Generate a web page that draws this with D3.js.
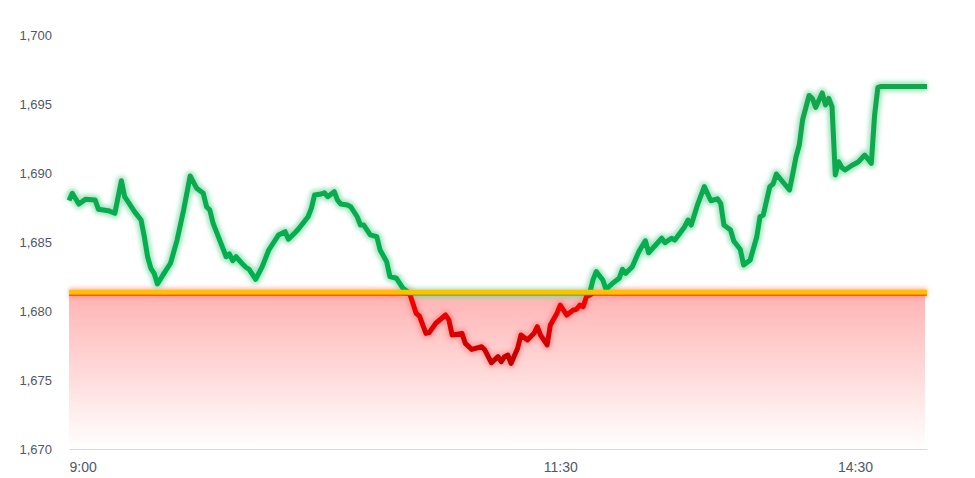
<!DOCTYPE html>
<html>
<head>
<meta charset="utf-8">
<script src="https://cdn.jsdelivr.net/npm/d3@7"></script>
<style>
  html, body { margin: 0; padding: 0; background: #fff; }
  #chart { width: 975px; height: 478px; }
  .axis text { font-family: "Liberation Sans", Arial, sans-serif; fill: #4f5968; }
</style>
</head>
<body>
<div id="chart"></div>
<script>
// intraday prices (morning 9:00-11:30, afternoon from 13:00)
const times = [
  "9:00","9:01","9:03","9:05","9:08","9:09","9:12","9:14","9:16","9:17","9:19","9:20","9:22","9:23","9:24","9:25","9:26","9:27","9:29",
  "9:31","9:33","9:35","9:37","9:39","9:41","9:42","9:43","9:44","9:45","9:48","9:49","9:50","9:51","9:53","9:54","9:55","9:57","9:59",
  "10:01","10:04","10:06","10:07","10:09","10:10","10:13","10:14","10:15","10:17","10:18","10:19","10:21","10:22","10:23","10:25","10:26","10:28","10:29",
  "10:30","10:32","10:34","10:35","10:37","10:38","10:40","10:42","10:44","10:45","10:46","10:47","10:49","10:50","10:52","10:55","10:56","10:57",
  "11:00","11:01","11:03","11:06","11:07","11:09","11:11","11:12","11:13","11:14","11:15","11:17","11:18","11:20","11:22","11:23","11:24","11:26","11:27","11:29","11:30",
  "13:02","13:04","13:05","13:06","13:07","13:08","13:09","13:10","13:11","13:13","13:14","13:16","13:18","13:19","13:20","13:22","13:24","13:26","13:27",
  "13:31","13:32","13:34","13:35","13:38","13:39","13:40","13:42","13:44","13:46","13:48","13:49","13:50","13:52","13:53","13:55","13:56","13:58",
  "14:00","14:01","14:02","14:04","14:05","14:06","14:08","14:10","14:11","14:12","14:13","14:14","14:16","14:17","14:18","14:20","14:21","14:22","14:23",
  "14:24","14:25","14:26","14:27","14:29","14:31","14:33","14:35","14:36","14:37","14:38","14:52"
];
const prices = [
  1688.00,1688.53,1687.75,1688.09,1688.04,1687.37,1687.27,1687.08,1689.44,1688.28,1687.56,1687.20,1686.59,1685.38,1683.93,1683.09,1682.73,1681.96,1682.73,
  1683.46,1685.14,1687.32,1689.78,1688.89,1688.53,1687.56,1687.32,1686.36,1685.75,1683.93,1684.13,1683.64,1683.93,1683.41,1683.17,1683.02,1682.30,1683.21,
  1684.42,1685.51,1685.75,1685.20,1685.67,1685.92,1686.83,1687.44,1688.41,1688.48,1688.57,1688.28,1688.64,1688.04,1687.75,1687.68,1687.56,1686.83,1686.23,
  1686.23,1685.51,1685.38,1684.42,1683.57,1682.49,1682.37,1681.64,1681.28,1680.56,1679.83,1679.64,1678.38,1678.43,1679.11,1679.71,1679.35,1678.26,
  1678.38,1677.66,1677.22,1677.41,1677.17,1676.25,1676.69,1676.33,1676.69,1676.81,1676.21,1677.30,1678.26,1677.90,1678.38,1678.86,1678.26,1677.54,1678.99,1679.83,1680.43,
  1679.71,1680.07,1680.12,1680.43,1680.31,1681.04,1681.16,1682.25,1682.85,1682.25,1681.57,1682.01,1682.37,1683.02,1682.73,1683.21,1684.30,1685.09,1684.22,
  1685.27,1684.95,1685.27,1685.14,1686.11,1686.59,1686.23,1687.75,1689.01,1687.99,1688.13,1687.80,1686.23,1685.87,1685.07,1684.46,1683.33,1683.70,
  1685.36,1686.83,1686.96,1689.01,1689.20,1689.93,1689.35,1688.77,1689.93,1691.16,1692.03,1693.84,1695.62,1695.40,1694.75,1695.80,1694.93,1695.40,1694.80,
  1689.86,1690.82,1690.40,1690.22,1690.54,1690.80,1691.30,1690.70,1694.20,1696.21,1696.27,1696.27
];
const baseValue = 1681.3;             // previous close
const yTicks = [1670, 1675, 1680, 1685, 1690, 1695, 1700];
const xTickLabels = ["9:00", "11:30", "14:30"];

// minutes of trading since the open, lunch break skipped
function sessionMinute(t) {
  var p = t.split(":").map(Number);
  var mins = p[0] * 60 + p[1];
  return mins <= 690 ? mins - 540 : mins - 780 + 150;
}

class IntradayChart {
  constructor(config) {
    this.config = config;
    this.initParams();
    this.initChart();
  }

  initParams() {
    this.selectChart = d3.select(this.config.bindto);
    this.margin = {top: 35, right: 48, bottom: 29, left: 69};
    this.width = 975 - this.margin.left - this.margin.right;
    this.height = 478 - this.margin.top - this.margin.bottom;
  }

  initChart() {
    this.svg = this.selectChart.append("svg")
      .attr("width", 975)
      .attr("height", 478);

    var defs = this.svg.append("defs");
    var glow = defs.append("filter").attr("id", "glow")
      .attr("x", "-5%").attr("y", "-20%").attr("width", "110%").attr("height", "140%");
    glow.append("feGaussianBlur").attr("stdDeviation", 2.2);

    this.defs = defs;
    this.g = this.svg.append("g")
      .attr("transform", "translate(" + this.margin.left + "," + this.margin.top + ")");
  }

  updateParams() {
    this.data = times.map((t, i) => ({m: sessionMinute(t), v: prices[i]}));
    this.xScale = d3.scaleLinear()
      .domain([0, d3.max(this.data, d => d.m)])
      .range([0, this.width]);
    this.yScale = d3.scaleLinear()
      .domain([1670, 1700])
      .range([this.height, 0]);
  }

  drawGradients() {
    var yb = this.yScale(baseValue);
    var area = this.defs.append("linearGradient").attr("id", "areaGrad")
      .attr("gradientUnits", "userSpaceOnUse")
      .attr("x1", 0).attr("x2", 0).attr("y1", yb).attr("y2", this.height);
    area.append("stop").attr("offset", "0%").attr("stop-color", "#ffb3b3");
    area.append("stop").attr("offset", "100%").attr("stop-color", "#ffffff");

    var red = this.defs.append("linearGradient").attr("id", "redGrad")
      .attr("gradientUnits", "userSpaceOnUse")
      .attr("x1", 0).attr("x2", 0).attr("y1", yb).attr("y2", this.yScale(d3.min(prices)));
    red.append("stop").attr("offset", "0%").attr("stop-color", "#ff0000");
    red.append("stop").attr("offset", "100%").attr("stop-color", "#c00000");

    var green = this.defs.append("linearGradient").attr("id", "greenGrad")
      .attr("gradientUnits", "userSpaceOnUse")
      .attr("x1", 0).attr("x2", 0).attr("y1", yb).attr("y2", this.yScale(d3.max(prices)));
    green.append("stop").attr("offset", "0%").attr("stop-color", "#00b050");
    green.append("stop").attr("offset", "100%").attr("stop-color", "#13a64c");
  }

  drawAxis() {
    var yAxis = this.g.append("g").attr("class", "axis y-axis")
      .call(d3.axisLeft(this.yScale).tickValues(yTicks).tickFormat(d3.format(",")).tickSize(0).tickPadding(17));
    yAxis.select(".domain").remove();
    yAxis.selectAll("text").style("font-size", "13px");

    var xAxis = this.g.append("g").attr("class", "axis x-axis")
      .attr("transform", "translate(0," + this.height + ")")
      .call(d3.axisBottom(this.xScale)
        .tickValues(xTickLabels.map(sessionMinute))
        .tickFormat((d, i) => xTickLabels[i])
        .tickSize(0).tickSizeOuter(0).tickPadding(13));
    xAxis.select(".domain").attr("stroke", "#d9d9d9");
    xAxis.selectAll("text").style("font-size", "14px")
      .attr("text-anchor", (d, i) => i === 0 ? "start" : "middle");
  }

  drawArea() {
    var yb = this.yScale(baseValue);
    this.g.append("rect")
      .attr("x", 0)
      .attr("y", yb)
      .attr("width", this.width - 2)
      .attr("height", this.height - yb - 1)
      .attr("fill", "url(#areaGrad)");
  }

  drawLines() {
    var that = this;
    var upLine = d3.line().curve(d3.curveLinear)
      .x(d => that.xScale(d.m)).y(d => that.yScale(Math.max(d.v, baseValue)));
    var downLine = d3.line().curve(d3.curveLinear)
      .x(d => that.xScale(d.m)).y(d => that.yScale(Math.min(d.v, baseValue)));

    // soft glow under the lines
    this.g.append("path").datum(this.data)
      .attr("d", downLine).attr("fill", "none")
      .attr("stroke", "#ff8080").attr("stroke-opacity", 0.6).attr("stroke-width", 10)
      .attr("stroke-linejoin", "round").attr("filter", "url(#glow)");
    this.g.append("path").datum(this.data)
      .attr("d", upLine).attr("fill", "none")
      .attr("stroke", "#7fd9a6").attr("stroke-opacity", 0.7).attr("stroke-width", 10)
      .attr("stroke-linejoin", "round").attr("filter", "url(#glow)");

    this.g.append("path").datum(this.data)
      .attr("d", downLine).attr("fill", "none")
      .attr("stroke", "url(#redGrad)").attr("stroke-width", 5)
      .attr("stroke-linejoin", "round").attr("stroke-linecap", "butt");
    this.g.append("path").datum(this.data)
      .attr("d", upLine).attr("fill", "none")
      .attr("stroke", "url(#greenGrad)").attr("stroke-width", 5)
      .attr("stroke-linejoin", "round").attr("stroke-linecap", "butt");
  }

  drawBaseLine() {
    var yb = this.yScale(baseValue);
    this.g.append("line")
      .attr("x1", 0).attr("x2", this.width)
      .attr("y1", yb - 1.5).attr("y2", yb - 1.5)
      .attr("stroke", "#ffd27a").attr("stroke-width", 8).attr("stroke-opacity", 0.5)
      .attr("filter", "url(#glow)");
    this.g.append("line")
      .attr("x1", 0).attr("x2", this.width)
      .attr("y1", yb - 0.8).attr("y2", yb - 0.8)
      .attr("stroke", "#ffc000").attr("stroke-width", 5);
  }

  render() {
    this.updateParams();
    this.drawGradients();
    this.drawArea();
    this.drawAxis();
    this.drawLines();
    this.drawBaseLine();
  }
}

new IntradayChart({bindto: "#chart"}).render();
</script>
</body>
</html>
